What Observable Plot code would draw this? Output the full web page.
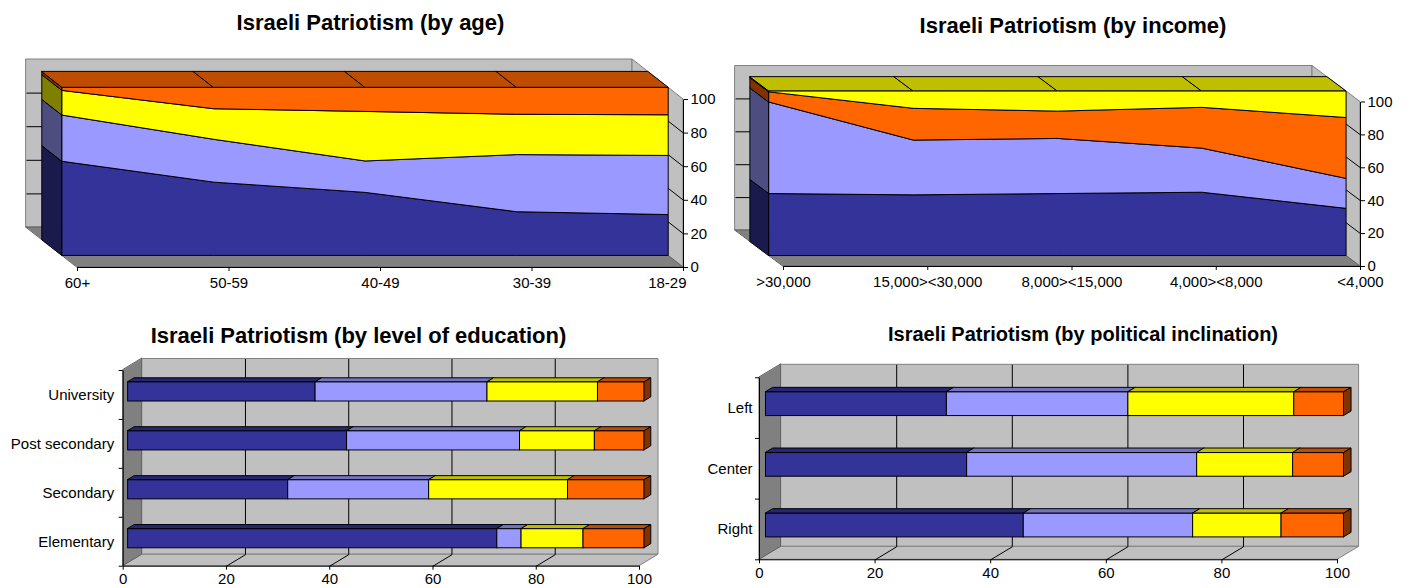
<!DOCTYPE html>
<html>
<head>
<meta charset="utf-8">
<script src="https://cdn.jsdelivr.net/npm/d3@7"></script>
<script src="https://cdn.jsdelivr.net/npm/@observablehq/plot@0.6"></script>
<style>
  body { margin: 0; background: #fff; }
  #page { position: relative; width: 1409px; height: 588px; overflow: hidden; background: #fff;
          font-family: "Liberation Sans", Arial, sans-serif; }
  .panel { position: absolute; }
  .panel svg { overflow: visible; }
  .title { position: absolute; width: 640px; text-align: center; font-weight: bold;
           font-size: 22px; line-height: 22px; color: #000; white-space: nowrap; }
</style>
</head>
<body>
<div id="page"></div>
<script>
// Shares of respondents (%), listed in stacking order
const ageGroups = ["60+", "50-59", "40-49", "30-39", "18-29"];
const ageNavy     = [56.0, 43.6, 37.5, 26.0, 24.3];
const ageLavender = [27.5, 25.5, 18.7, 34.0, 35.2];
const ageYellow   = [14.7, 18.2, 29.5, 24.0, 24.2];
const ageOrange   = [ 1.8, 12.7, 14.3, 16.0, 16.3];

const incomeGroups = [">30,000", "15,000><30,000", "8,000><15,000", "4,000><8,000", "<4,000"];
const incomeNavy     = [37.7, 36.9, 37.7, 38.5, 28.7];
const incomeLavender = [55.6, 33.3, 33.5, 26.8, 18.2];
const incomeOrange   = [ 6.2, 19.3, 16.6, 24.8, 37.0];
const incomeYellow   = [ 0.5, 10.5, 12.2,  9.9, 16.1];

const eduLevels   = ["University", "Post secondary", "Secondary", "Elementary"];
const eduNavy     = [36.3, 42.4, 31.0, 71.5];
const eduLavender = [33.3, 33.5, 27.3,  4.7];
const eduYellow   = [21.4, 14.5, 26.9, 12.0];
const eduOrange   = [ 9.0,  9.6, 14.8, 11.8];

const politics    = ["Left", "Center", "Right"];
const polNavy     = [31.3, 34.8, 44.6];
const polLavender = [31.4, 39.8, 29.3];
const polYellow   = [28.7, 16.6, 15.3];
const polOrange   = [ 8.6,  8.8, 10.8];

const valueTicks = [0, 20, 40, 60, 80, 100];
const gridValues = [20, 40, 60, 80];

const NAVY = "#333399", LAVENDER = "#9999FF", YELLOW = "#FFFF00", ORANGE = "#FF6600";
const WALL = "#C0C0C0", FLOOR = "#808080", EDGE = "#808080";
const FONT = "'Liberation Sans', Arial, sans-serif";

const page = document.getElementById("page");

// darker tint used for the lit top and shaded sides of the 3-D solids
function shade(c, k) {
  const r = d3.rgb(c);
  return d3.rgb(r.r * k, r.g * k, r.b * k).formatHex();
}

// Returns a function that moves a data point back in depth by u (0 = front plane, 1 = back wall),
// expressed in data units of the panel's linear scales.
function projector(o) {
  const xl = o.margin[0], xr = o.width - o.margin[1];
  const yt = o.margin[2], yb = o.height - o.margin[3];
  const kx = (xr - xl) / (o.xDomain[1] - o.xDomain[0]);
  const ky = (yt - yb) / (o.yDomain[1] - o.yDomain[0]);
  return (x, y, u) => [x + u * o.depth[0] / kx, y + u * o.depth[1] / ky];
}

// a quadrilateral as two rows of an area mark (x1/y1 edge and x2/y2 edge)
function quad(id, pts, fill) {
  return [
    {id, fill, x1: pts[0][0], y1: pts[0][1], x2: pts[3][0], y2: pts[3][1]},
    {id, fill, x1: pts[1][0], y1: pts[1][1], x2: pts[2][0], y2: pts[2][1]}
  ];
}
function faces(rows, stroke) {
  return Plot.area(rows, {x1: "x1", y1: "y1", x2: "x2", y2: "y2", z: "id", fill: "fill",
                          stroke, strokeWidth: 1, strokeLinejoin: "miter"});
}
function segments(rows, stroke) {
  return Plot.link(rows, {x1: d => d[0][0], y1: d => d[0][1], x2: d => d[1][0], y2: d => d[1][1],
                          stroke, strokeWidth: 1});
}

function addTitle(text, cx, baseline, size = 22) {
  const t = document.createElement("div");
  t.className = "title";
  t.textContent = text;
  t.style.fontSize = size + "px";
  t.style.lineHeight = size + "px";
  t.style.left = (cx - 320) + "px";
  t.style.top = (baseline - size * 0.846) + "px";
  page.appendChild(t);
}
function mount(svg, left, top) {
  const d = document.createElement("div");
  d.className = "panel";
  d.style.left = left + "px";
  d.style.top = top + "px";
  d.appendChild(svg);
  page.appendChild(d);
}

function plotOptions(o, marks) {
  return {
    width: o.width, height: o.height,
    marginLeft: o.margin[0], marginRight: o.margin[1], marginTop: o.margin[2], marginBottom: o.margin[3],
    x: {domain: o.xDomain}, y: {domain: o.yDomain},
    color: {type: "identity"},
    style: {fontFamily: FONT, fontSize: "15px", color: "#000", background: "transparent", overflow: "visible"},
    marks
  };
}

// 3-D stacked area chart with the value axis on the right
function areaPanel(o) {
  const n = o.groups.length, last = n - 1;
  o.xDomain = [0, last];
  o.yDomain = [0, 100];
  const P = projector(o);

  const walls = [
    ...quad("back", [P(0, 0, 1), P(last, 0, 1), P(last, 100, 1), P(0, 100, 1)], WALL),
    ...quad("side", [P(last, 0, 0), P(last, 100, 0), P(last, 100, 1), P(last, 0, 1)], WALL)
  ];
  const floor = quad("floor", [P(0, 0, 0), P(last, 0, 0), P(last, 0, 1), P(0, 0, 1)], FLOOR);
  const backGrid = gridValues.map(v => [P(0, v, 1), P(last, v, 1)]);
  const sideGrid = gridValues.map(v => [P(last, v, 0), P(last, v, 1)]);

  let cum = o.groups.map(() => 0);
  const stacks = o.layers.map(({values, color}) => {
    const lo = cum.slice();
    cum = cum.map((c, i) => c + values[i]);
    return {lo, hi: cum.slice(), color};
  });

  const front = [];
  const sides = [];
  stacks.forEach((s, k) => {
    o.groups.forEach((g, i) => {
      const [x, y1] = P(i, s.lo[i], o.uf);
      const [, y2] = P(i, s.hi[i], o.uf);
      front.push({k, x, y1, y2, fill: s.color});
    });
    sides.push(...quad("s" + k, [P(0, s.lo[0], o.uf), P(0, s.hi[0], o.uf), P(0, s.hi[0], o.ub), P(0, s.lo[0], o.ub)],
                       shade(s.color, 0.5)));
  });
  const topLayer = stacks[stacks.length - 1];
  const tops = [];
  for (let i = 0; i < last; i++) {
    const a = topLayer.hi[i], b = topLayer.hi[i + 1];
    tops.push(...quad("t" + i, [P(i, a, o.uf), P(i + 1, b, o.uf), P(i + 1, b, o.ub), P(i, a, o.ub)],
                      shade(topLayer.color, 0.75)));
  }

  const labelIdx = d3.range(last);
  const marks = [
    faces(walls, EDGE),
    segments(backGrid, "#000"),
    segments(sideGrid, "#000"),
    faces(floor, "#606060"),
    faces(sides, "#000"),
    faces(tops, "#000"),
    Plot.areaY(front, {x: "x", y1: "y1", y2: "y2", z: "k", fill: "fill", stroke: "#000", strokeWidth: 1}),
    segments([[P(0, 0, 0), P(last, 0, 0)], [P(last, 0, 0), P(last, 100, 0)]], "#000"),
    Plot.axisX({ticks: d3.range(n), tickFormat: () => "", tickSize: 4, label: null}),
    Plot.text(labelIdx, {x: i => i, y: 0, text: i => o.groups[i], lineAnchor: "top", dy: 10, fill: "#000"}),
    Plot.text([last], {x: i => i, y: 0, text: i => o.groups[i], lineAnchor: "top", dy: 10, fill: "#000",
                       textAnchor: o.lastAnchor, dx: o.lastDx}),
    Plot.axisY({anchor: "right", ticks: valueTicks, tickSize: 4, tickPadding: 3, label: null})
  ];
  mount(Plot.plot(plotOptions(o, marks)), o.left, o.top);
}

// 3-D stacked horizontal bar chart with categories on the left
function barPanel(o) {
  const n = o.cats.length;
  const t0 = -0.5, b0 = n - 0.5;
  o.xDomain = [0, 100];
  o.yDomain = [b0, t0];
  const P = projector(o);

  const walls = [
    ...quad("back", [P(0, t0, 1), P(100, t0, 1), P(100, b0, 1), P(0, b0, 1)], WALL),
    ...quad("bottom", [P(0, b0, 0), P(100, b0, 0), P(100, b0, 1), P(0, b0, 1)], WALL)
  ];
  const leftWall = quad("left", [P(0, t0, 0), P(0, b0, 0), P(0, b0, 1), P(0, t0, 1)], FLOOR);
  const backGrid = gridValues.map(v => [P(v, t0, 1), P(v, b0, 1)]);
  const floorGrid = gridValues.map(v => [P(v, b0, 0), P(v, b0, 1)]);

  const half = o.thick / 2;
  const front = [], tops = [], ends = [];
  o.cats.forEach((c, i) => {
    let acc = 0;
    o.layers.forEach(({values, color}, k) => {
      const lo = acc, hi = acc + values[i];
      acc = hi;
      const [fx1, fy1] = P(lo, i - half, o.uf);
      const [fx2, fy2] = P(hi, i + half, o.uf);
      front.push({x1: fx1, x2: fx2, y1: fy1, y2: fy2, fill: color});
      tops.push(...quad(`t${i}-${k}`, [P(lo, i - half, o.uf), P(hi, i - half, o.uf), P(hi, i - half, o.ub), P(lo, i - half, o.ub)],
                        shade(color, 0.75)));
      if (k === o.layers.length - 1) {
        ends.push(...quad(`e${i}`, [P(hi, i - half, o.uf), P(hi, i - half, o.ub), P(hi, i + half, o.ub), P(hi, i + half, o.uf)],
                          shade(color, 0.5)));
      }
    });
  });

  const marks = [
    faces(walls, EDGE),
    faces(leftWall, "#606060"),
    segments(backGrid, "#000"),
    segments(floorGrid, "#000"),
    faces(tops, "#000"),
    faces(ends, "#000"),
    Plot.rect(front, {x1: "x1", x2: "x2", y1: "y1", y2: "y2", fill: "fill", stroke: "#000", strokeWidth: 1}),
    segments([[P(0, t0, 0), P(0, b0, 0)], [P(0, b0, 0), P(100, b0, 0)]], "#000"),
    Plot.axisY({ticks: d3.range(n), tickFormat: i => o.cats[i], tickSize: 0, tickPadding: o.labelPad, label: null}),
    Plot.axisY({ticks: d3.range(n + 1).map(i => i - 0.5), tickFormat: () => "", tickSize: 4, label: null}),
    Plot.axisX({ticks: valueTicks, tickSize: 4, tickPadding: o.xPad, label: null})
  ];
  mount(Plot.plot(plotOptions(o, marks)), o.left, o.top);
}

areaPanel({
  groups: ageGroups,
  layers: [
    {values: ageNavy, color: NAVY},
    {values: ageLavender, color: LAVENDER},
    {values: ageYellow, color: YELLOW},
    {values: ageOrange, color: ORANGE}
  ],
  left: 0, top: 0, width: 704, height: 294, margin: [77, 21, 99, 27],
  depth: [-51, -40], uf: 0.29, ub: 0.69, lastAnchor: "end", lastDx: 3
});

areaPanel({
  groups: incomeGroups,
  layers: [
    {values: incomeNavy, color: NAVY},
    {values: incomeLavender, color: LAVENDER},
    {values: incomeOrange, color: ORANGE},
    {values: incomeYellow, color: YELLOW}
  ],
  left: 704, top: 0, width: 705, height: 294, margin: [79, 49, 101.5, 28],
  depth: [-48, -36], uf: 0.29, ub: 0.69, lastAnchor: "middle", lastDx: 0
});

barPanel({
  cats: eduLevels,
  layers: [
    {values: eduNavy, color: NAVY},
    {values: eduLavender, color: LAVENDER},
    {values: eduYellow, color: YELLOW},
    {values: eduOrange, color: ORANGE}
  ],
  left: 0, top: 294, width: 704, height: 294, margin: [122.7, 65, 76, 22.3],
  depth: [19, -11.5], uf: 0.26, ub: 0.62, thick: 0.39, labelPad: 9, xPad: 3
});

barPanel({
  cats: politics,
  layers: [
    {values: polNavy, color: NAVY},
    {values: polLavender, color: LAVENDER},
    {values: polYellow, color: YELLOW},
    {values: polOrange, color: ORANGE}
  ],
  left: 704, top: 294, width: 705, height: 294, margin: [55, 72, 83.3, 28.7],
  depth: [21.6, -13], uf: 0.3, ub: 0.65, thick: 0.39, labelPad: 7, xPad: 4
});

addTitle("Israeli Patriotism (by age)", 370.5, 30.7);
addTitle("Israeli Patriotism (by income)", 1073, 34);
addTitle("Israeli Patriotism (by level of education)", 358.5, 343.3);
addTitle("Israeli Patriotism (by political inclination)", 1083, 341, 20);
</script>
</body>
</html>
